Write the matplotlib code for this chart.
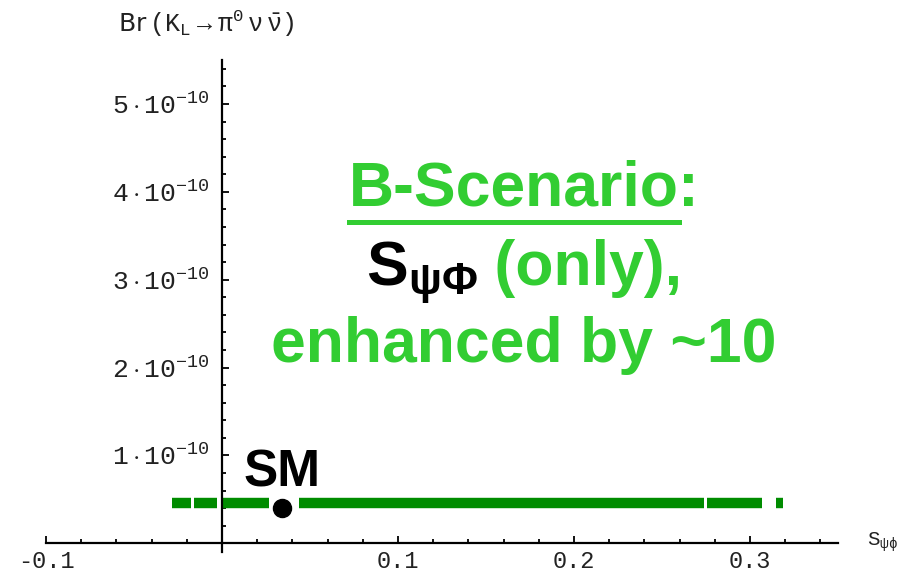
import matplotlib
matplotlib.use("Agg")
import matplotlib.pyplot as plt
from matplotlib.lines import Line2D

# data
seg_start = [-0.0284, -0.0159, -0.0006, 0.0438, 0.2756, 0.3150]
seg_end = [-0.0176, -0.0028, 0.0267, 0.2740, 0.3070, 0.3190]
band_y = 0.46e-10
sm_x = [0.034]
sm_y = [0.40e-10]

x_major = [-0.1, 0.1, 0.2, 0.3]
x_labels = ['-0.1', '0.1', '0.2', '0.3']
y_major = [1e-10, 2e-10, 3e-10, 4e-10, 5e-10]
y_labels = [r'$%d\;{\cdot}\;10^{-10}$' % k for k in range(1, 6)]

green_txt = '#32CD32'
green_pts = '#008C00'
W, H = 910, 576

plt.rcParams['mathtext.fontset'] = 'custom'
plt.rcParams['mathtext.rm'] = 'Liberation Mono'
plt.rcParams['mathtext.it'] = 'Liberation Mono:italic'
plt.rcParams['mathtext.bf'] = 'Liberation Sans:bold'
plt.rcParams['mathtext.default'] = 'rm'

fig = plt.figure(figsize=(9.1, 5.76), dpi=100)
ax = fig.add_axes([46 / W, 1 - 552 / H, (838 - 46) / W, (552 - 60) / H])
ax.set_xlim(-0.1, 0.35)
ax.set_ylim(-0.1e-10, 5.5e-10)

for s in ['top', 'right']:
    ax.spines[s].set_visible(False)
ax.spines['left'].set_position(('data', 0))
ax.spines['bottom'].set_position(('data', 0))
for s in ['left', 'bottom']:
    ax.spines[s].set_linewidth(1.6)

ax.set_xticks(x_major)
ax.set_xticklabels(x_labels)
ax.set_xticks([i * 0.02 for i in range(-5, 18)], minor=True)
ax.set_yticks(y_major)
ax.set_yticklabels(y_labels)
ax.set_yticks([i * 0.2e-10 for i in range(1, 28)], minor=True)
ax.tick_params(which='both', direction='in', width=1.3, colors='black', labelcolor='#222222')
ax.tick_params(which='major', length=5)
ax.tick_params(which='minor', length=3)
ax.tick_params(axis='x', pad=5)
ax.tick_params(axis='y', pad=9)
for lab in ax.get_xticklabels():
    lab.set_family('Liberation Mono')
    lab.set_fontsize(17)
for lab in ax.get_yticklabels():
    lab.set_fontsize(19)

# green band of scan points
for a, b in zip(seg_start, seg_end):
    ax.plot([a, b], [band_y, band_y], color=green_pts, lw=7.5, solid_capstyle='butt')

# SM point
ax.plot(sm_x, sm_y, 'o', color='black', ms=13, zorder=5)
ax.text(sm_x[0], 0.65e-10, 'SM', family='Liberation Sans', fontweight='bold',
        fontsize=37, ha='center', va='baseline')

# axis labels
fig.text(118 / W, 1 - 32 / H,
         r'Br$\;(\mathrm{K_L}\,\rightarrow\,\pi^0\;\nu\;\bar{\nu})$',
         fontsize=18, color='#222222', ha='left', va='baseline')
fig.text(867 / W, 1 - 546 / H, r'$\mathrm{S}_{\psi\phi}$', fontsize=15, color='#222222',
         ha='left', va='baseline')

# green annotation
cx = 524
big = dict(family='Liberation Sans', fontweight='bold', fontsize=45)
renderer = fig.canvas.get_renderer()

t1 = fig.text(cx / W, 1 - 206 / H, 'B-Scenario:', color=green_txt, ha='center', va='baseline', **big)
bb1 = t1.get_window_extent(renderer)
tmp = fig.text(0, 0, 'B-Scenario', **big)
w_b = tmp.get_window_extent(renderer).width
tmp.remove()
uy = 1 - 222 / H
fig.add_artist(Line2D([bb1.x0 / W, (bb1.x0 + w_b) / W], [uy, uy], color=green_txt, lw=3.6,
                      transform=fig.transFigure))

t2a = fig.text(0, 1 - 285 / H, r'$\mathbf{S_{ψΦ}}$', color='black', ha='left', va='baseline',
               fontsize=45)
t2b = fig.text(0, 1 - 285 / H, ' (only),', color=green_txt, ha='left', va='baseline', **big)
w2a = t2a.get_window_extent(renderer).width
w2b = t2b.get_window_extent(renderer).width
x0 = cx - (w2a + w2b) / 2
t2a.set_x(x0 / W)
t2b.set_x((x0 + w2a) / W)

fig.text(cx / W, 1 - 362 / H, 'enhanced by ~10', color=green_txt, ha='center', va='baseline', **big)

fig.savefig('out.png', dpi=100)
